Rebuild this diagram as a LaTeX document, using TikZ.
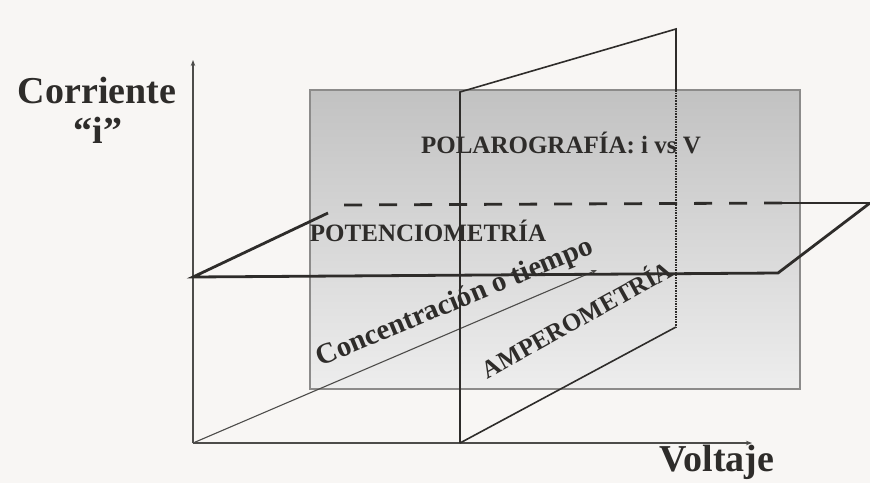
\documentclass[tikz,border=0pt]{standalone}
\usepackage{fontspec}
\setmainfont{Liberation Serif}
\usetikzlibrary{arrows.meta}
\definecolor{paper}{HTML}{F8F6F4}
\definecolor{ink}{HTML}{2E2C2A}
\tikzset{
  thickline/.style={draw=ink,line width=2.8pt},
  thinline/.style={draw=ink!85,line width=1.1pt},
  midline/.style={draw=ink,line width=1.6pt},
  axisarrow/.style={thinline,-{Stealth[length=6pt,width=4.5pt]}},
  biglabel/.style={font=\bfseries\fontsize{38}{40}\selectfont,text=ink,inner sep=0pt},
  caplabel/.style={font=\bfseries\fontsize{25}{27}\selectfont,text=ink,inner sep=0pt},
}
\begin{document}
\begin{tikzpicture}[x=1pt,y=-1pt]
\fill[paper] (0,0) rectangle (870,483);
\useasboundingbox (0,0) rectangle (870,483);
% background plane (polarografia)
\coordinate (r1) at (310,90);
\coordinate (r2) at (800,90);
\coordinate (r3) at (800,389);
\coordinate (r4) at (310,389);
\shade[top color=black!24,bottom color=black!7] (r1) rectangle (r3);
\draw[thinline,draw=ink!55] (r1) -- (r2) -- (r3) -- (r4) -- cycle;
% axes
\coordinate (o) at (193,443);
\coordinate (ytop) at (193,60);
\coordinate (xend) at (752,443);
\coordinate (zend) at (597,270);
\draw[axisarrow] (o) -- (ytop);
\draw[axisarrow] (o) -- (xend);
\draw[thinline,-{Stealth[length=6pt,width=4.5pt]}] (o) -- (zend);
% vertical slanted plane (amperometria)
\coordinate (p1) at (460,443);
\coordinate (p2) at (460,92);
\coordinate (p3) at (676,29);
\coordinate (p3b) at (676,90);
\coordinate (p4) at (676,327);
\draw[midline] (p1) -- (p2) -- (p3) -- (p3b);
\draw[midline,densely dotted] (p3b) -- (p4);
\draw[midline] (p4) -- (p1);
% horizontal plane (potenciometria)
\coordinate (h1) at (193,277);
\coordinate (h2) at (778,273);
\coordinate (h3) at (870,203);
\coordinate (h4) at (782,203);
\coordinate (h5) at (342,205);
\coordinate (h6) at (328,213);
\draw[thickline] (h6) -- (h1) -- (h2) -- (h3);
\draw[thickline] (h3) -- (h4);
\draw[thickline,dash pattern=on 18pt off 17pt] (h4) -- (h5);
% labels
\node[biglabel] (cor) at (97,90) {Corriente};
\node[biglabel] (ii) at (98,130) {“i”};
\node[biglabel] (volt) at (717,462) {Voltaje};
\node[caplabel] (pol) at (561,143) {POLAROGRAF\'IA: i vs V};
\node[caplabel] (pot) at (428,231) {POTENCIOMETR\'IA};
\node[font=\bfseries\fontsize{29}{31}\selectfont,text=ink,inner sep=0pt,rotate=22.5] (conc) at (455,303) {Concentraci\'on o tiempo};
\node[caplabel,rotate=29] (amp) at (576,318) {AMPEROMETR\'IA};
\end{tikzpicture}
\end{document}
